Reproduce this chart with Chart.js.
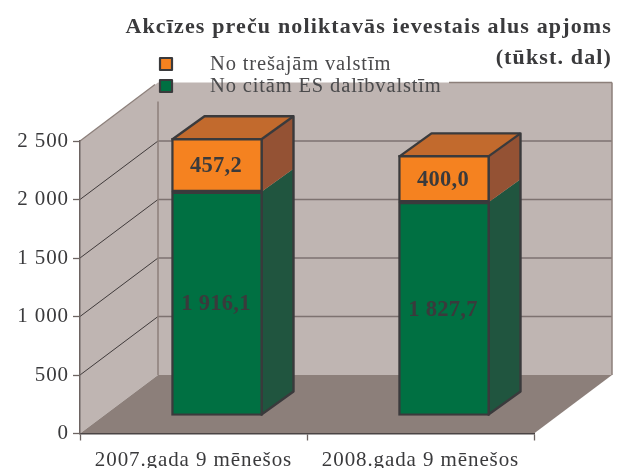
<!DOCTYPE html>
<html><head><meta charset="utf-8">
<style>html,body{margin:0;padding:0;background:#fff}canvas{display:block}</style>
<script src="https://cdn.jsdelivr.net/npm/chart.js@4"></script>
</head><body><canvas id="c" width="622" height="468"></canvas>
<script>
const categories = ["2007.gada 9 mēnešos", "2008.gada 9 mēnešos"];
const euCountries = [1916.1, 1827.7];
const thirdCountries = [457.2, 400.0];
const euLabel = "No citām ES dalībvalstīm";
const thirdLabel = "No trešajām valstīm";
const titleLines = ["Akcīzes preču noliktavās ievestais alus apjoms", "(tūkst. dal)"];

const INK = "#3a3a3c", SERIF = '"Liberation Serif"';
const WALL_DX = 78, WALL_DY = -58.5, BAR_DX = 23.5, BAR_DY = -17.5, DEPTH_DX = 32, DEPTH_DY = -23;
const fmt = (v, d) => { const s = v.toFixed(d).replace(".", ","); return s.replace(/\B(?=(\d{3})+(?!\d))/g, " "); };
const poly = (ctx, pts, fill) => { ctx.beginPath(); pts.forEach((p, i) => i ? ctx.lineTo(p[0], p[1]) : ctx.moveTo(p[0], p[1])); ctx.closePath(); if (fill) { ctx.fillStyle = fill; ctx.fill(); } };
const line = (ctx, a, b, color, w) => { ctx.beginPath(); ctx.moveTo(a[0], a[1]); ctx.lineTo(b[0], b[1]); ctx.strokeStyle = color; ctx.lineWidth = w; ctx.stroke(); };

const scene = {
  id: "scene",
  beforeDraw(chart) {
    const ctx = chart.ctx, { left: L, right: R } = chart.chartArea, y = chart.scales.y;
    const y0 = y.getPixelForValue(0), yT = y.getPixelForValue(2500);
    const dx = WALL_DX, dy = WALL_DY;
    ctx.letterSpacing = "0.9px";
    ctx.save();
    ctx.letterSpacing = "0px";
    poly(ctx, [[L + dx, yT + dy], [R + dx, yT + dy], [R + dx, y0 + dy], [L + dx, y0 + dy]], "#bfb5b2");
    poly(ctx, [[L, yT], [L + dx, yT + dy], [L + dx, y0 + dy], [L, y0]], "#bfb5b2");
    poly(ctx, [[L, y0], [L + dx, y0 + dy], [R + dx, y0 + dy], [R, y0]], "#8c7f7a");
    [500, 1000, 1500, 2000].forEach(v => {
      const p = y.getPixelForValue(v);
      line(ctx, [L + dx, p + dy], [R + dx, p + dy], "#7d7270", 1.4);
      line(ctx, [L, p], [L + dx, p + dy], "#3f3a3a", 1);
    });
    line(ctx, [L, yT], [L + dx - 3, yT + dy + 2], "#8c7f7a", 1.3);
    line(ctx, [L + dx, yT + dy + 19], [L + dx, y0 + dy], "#8c7f7a", 1.5);
    line(ctx, [449, yT + dy], [R + dx, yT + dy], "#8c7f7a", 1.5);
    line(ctx, [R + dx, yT + dy], [R + dx, y0 + dy], "#8c7f7a", 1.5);
    ctx.restore();
  },
  beforeDatasetsDraw(chart) {
    const ctx = chart.ctx;
    const green = chart.getDatasetMeta(0).data, orange = chart.getDatasetMeta(1).data;
    green.forEach((g, i) => {
      const o = orange[i], r = g.x + g.width / 2 + BAR_DX - 1, l = g.x - g.width / 2 + BAR_DX + 1;
      const base = g.base + BAR_DY - 1, mid = g.y + BAR_DY, top = o.y + BAR_DY + 1;
      const ax = DEPTH_DX, ay = DEPTH_DY;
      poly(ctx, [[r, mid], [r + ax, mid + ay], [r + ax, base + ay], [r, base]], "#20553f");
      poly(ctx, [[r, top], [r + ax, top + ay], [r + ax, mid + ay], [r, mid]], "#945234");
      poly(ctx, [[l, top], [l + ax, top + ay], [r + ax, top + ay], [r, top]], "#c26a2d");
      ctx.lineJoin = "round";
      poly(ctx, [[l, top], [l + ax, top + ay], [r + ax, top + ay], [r + ax, base + ay], [r, base], [r, top]]);
      ctx.strokeStyle = INK; ctx.lineWidth = 2.4; ctx.stroke();
      line(ctx, [r, top], [r + ax, top + ay], INK, 2.4);
    });
    ctx.save();
    ctx.translate(BAR_DX, BAR_DY);
  },
  afterDatasetsDraw(chart) {
    const ctx = chart.ctx;
    ctx.restore();
    ctx.save();
    ctx.fillStyle = INK; ctx.textAlign = "center"; ctx.textBaseline = "middle";
    ctx.font = "bold 22.5px " + SERIF; ctx.letterSpacing = "0.3px";
    [0, 1].forEach(ds => chart.getDatasetMeta(ds).data.forEach((b, i) => {
      const v = chart.data.datasets[ds].data[i];
      ctx.fillText(fmt(v, 1), b.x + BAR_DX - 1, (b.y + b.base) / 2 + BAR_DY + 1);
    }));
    ctx.restore();
  },
  afterDraw(chart) {
    const ctx = chart.ctx;
    ctx.save();
    ctx.fillStyle = INK; ctx.textAlign = "right"; ctx.textBaseline = "alphabetic";
    ctx.font = "bold 22px " + SERIF; ctx.letterSpacing = "1.14px";
    ctx.fillText(titleLines[0], 612, 33);
    ctx.fillText(titleLines[1], 612, 64);
    ctx.textAlign = "left";
    ctx.font = "20.5px " + SERIF; ctx.letterSpacing = "0.85px"; ctx.fillStyle = "#4a4a4c";
    const ds = chart.data.datasets;
    [[ds[1], 57, 70], [ds[0], 79, 92]].forEach(([d, sy, by]) => {
      ctx.fillText(d.label, 210, by);
      ctx.fillStyle = d.backgroundColor; ctx.fillRect(160, sy + 1, 12, 12);
      ctx.strokeStyle = INK; ctx.lineWidth = 2.2; ctx.strokeRect(160, sy + 1, 12, 12);
      ctx.fillStyle = "#4a4a4c";
    });
    ctx.restore();
  }
};

new Chart(document.getElementById("c"), {
  type: "bar",
  data: {
    labels: categories,
    datasets: [
      { label: euLabel, data: euCountries, backgroundColor: "#007042", borderColor: INK, borderWidth: 2.4, borderSkipped: false, barThickness: 91, clip: false },
      { label: thirdLabel, data: thirdCountries, backgroundColor: "#f58220", borderColor: INK, borderWidth: 2.4, borderSkipped: false, barThickness: 91, clip: false }
    ]
  },
  options: {
    responsive: false, animation: false, events: [],
    layout: { padding: { left: 0, right: 88, top: 141, bottom: 0 } },
    plugins: { legend: { display: false }, title: { display: false }, tooltip: { enabled: false } },
    scales: {
      x: {
        stacked: true,
        afterFit: s => { s.height = 34.5; },
        grid: { drawOnChartArea: false, tickLength: 7, tickColor: "#6d6462", tickWidth: 1.3 },
        border: { color: "#4a4444", width: 1.5 },
        ticks: { color: INK, font: { family: SERIF, size: 21 }, padding: 7, maxRotation: 0, autoSkip: false }
      },
      y: {
        stacked: true, min: 0, max: 2500,
        afterFit: s => { s.width = 80; },
        grid: { drawOnChartArea: false, tickLength: 7, tickColor: "#6d6462", tickWidth: 1.3 },
        border: { color: "#6d6462", width: 1.5 },
        ticks: { color: INK, font: { family: SERIF, size: 21 }, padding: 4, stepSize: 500, callback: v => fmt(v, 0) }
      }
    }
  },
  plugins: [scene]
});
</script></body></html>
